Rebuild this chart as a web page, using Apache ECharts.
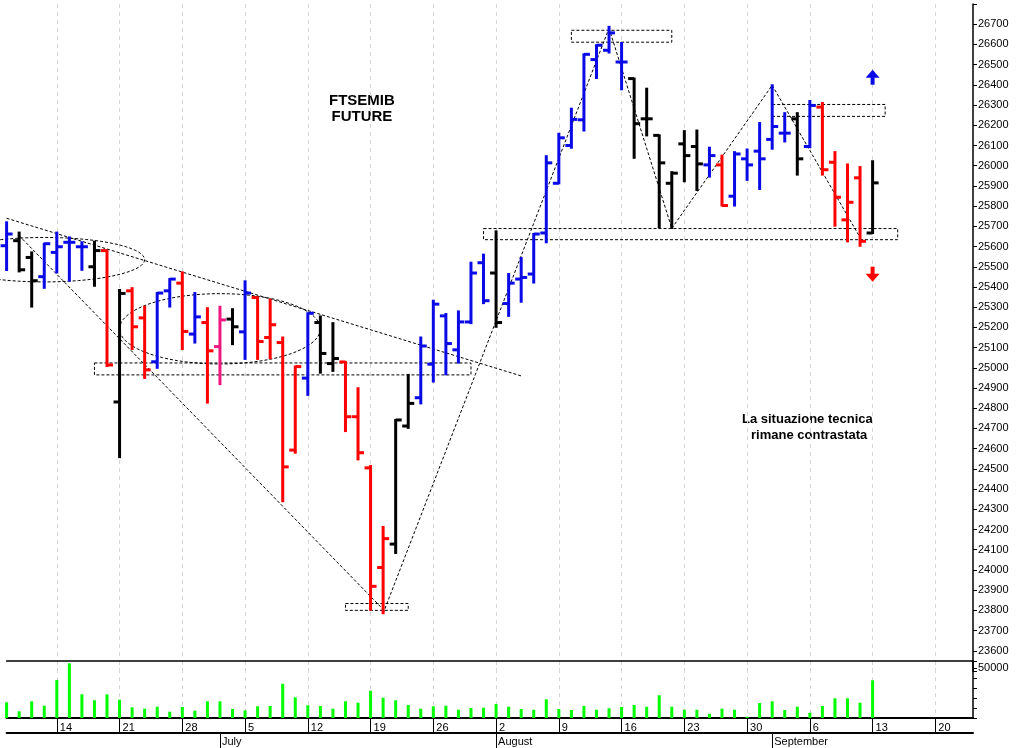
<!DOCTYPE html>
<html>
<head>
<meta charset="utf-8">
<script src="https://cdn.jsdelivr.net/npm/echarts@6/dist/echarts.min.js"></script>
<style>
  html, body { margin: 0; padding: 0; background: #fff; }
  #chart { width: 1030px; height: 748px; }
</style>
</head>
<body>
<div id="chart"></div>
<script>
// daily bars, FTSEMIB future, 8 Jun - 13 Sep 2021
const opens  = [25604,25629,25546,25451,25571,25621,25599,25500,25580,24831,25381,25247,25030,25381,25419,25167,25224,25105,25241,25178,
                25348,25150,25125,24593,24949,25224,25021,25029,24758,24505,24012,24128,24712,24852,25018,25257,25089,25227,25520,25469,
                25318,25439,25464,25667,25913,26100,26227,26525,26571,26513,26431,26232,26150,25913,26108,26095,26004,26004,25849,26034,
                26072,26130,26161,26232,26095,26290,26017,25732,25940,25667];
const highs  = [25720,25669,25571,25614,25669,25645,25621,25624,25580,25385,25394,25302,25370,25439,25472,25370,25295,25302,25290,25428,
                25348,25337,25150,25006,25270,25254,25221,25029,24899,24514,24213,24742,24965,25150,25332,25266,25279,25520,25560,25675,
                25464,25543,25662,26047,26158,26282,26551,26596,26687,26607,26431,26381,26150,25968,26171,26174,26089,26050,26067,26080,
                26211,26398,26260,26260,26320,26310,26067,26006,25993,26022];
const lows   = [25484,25477,25303,25396,25472,25431,25485,25406,25009,24558,25093,24950,25000,25303,25093,25125,24828,24919,25117,25044,
                25044,25048,24340,24580,24866,24976,24985,24687,24547,23803,23786,24084,24703,24824,24932,24968,25026,25221,25320,25203,
                25257,25327,25422,25621,25913,26089,26174,26434,26560,26378,26039,26150,25695,25692,25923,25880,25946,25803,25803,25930,
                25885,26084,26120,25956,26092,25956,25703,25626,25604,25667];
const closes = [25662,25485,25431,25614,25599,25621,25599,25580,25014,25368,25203,24990,25370,25439,25180,25252,25084,25237,25203,25370,
                25130,25213,24510,25006,25270,25071,25046,24758,24580,23919,24155,24742,24824,25108,25315,25120,25227,25469,25332,25224,
                25419,25447,25662,26014,26138,26229,26551,26596,26657,26513,26208,26232,26014,25963,26050,26009,26050,25803,26058,26004,
                26034,26194,26161,26034,26298,25980,25844,25819,25626,25915];
const barColors = 'bkkbbbbkrkrrbbrbrpkbrrrrbkkrrrrkkbbbbbbkbbbbbbbbbbkkkkkkbrbbbbbkbrrrrk'.split('');
const volumes = [15700,6700,16700,12300,38000,54700,23700,17700,23700,18300,10700,9300,11300,6300,11000,7300,16700,16700,9000,7700,
                 11700,12000,34300,20700,12700,12000,9300,16700,15300,27300,20300,17700,13000,9300,11700,12300,8300,10000,10300,14000,
                 11300,9000,8300,18700,9000,8000,12000,8300,9700,11000,13000,11300,22700,11300,8300,8300,4300,9300,8300,1300,
                 15000,16700,8000,11300,5300,12000,19700,19700,15300,37700];
const monthNames = ['January','February','March','April','May','June','July','August','September','October','November','December'];

// annotations in [dayIndex, price]
const trendLines = [
  [[0.0, 25740], [40.9, 24960]],
  [[1.07, 25654], [29.8, 23805]],
  [[30.2, 23785], [48.2, 26680]],
  [[48.2, 26680], [53.0, 25690]],
  [[53.0, 25690], [61.1, 26398]],
  [[61.1, 26398], [68.2, 25645]]
];
const boxes = [
  [7.04, 25024, 37.1, 24965],
  [27.1, 23834, 32.1, 23800],
  [45.1, 26670, 53.2, 26611],
  [38.2, 25689, 71.1, 25634],
  [61.2, 26303, 70.2, 26244]
];
const ellipses = [
  [2.66, 25535, 8.2, 110],
  [17.2, 25193, 8.1, 174]
];

const colorMap = { b: '#0a0ae6', k: '#000000', r: '#ff0000', p: '#f0187f' };

const days = [];
const dt = new Date(2021, 5, 8);
while (days.length < 78) {
  if (dt.getDay() !== 0 && dt.getDay() !== 6) days.push(new Date(dt));
  dt.setDate(dt.getDate() + 1);
}
const categories = days.map(d => d.getFullYear() + '-' + (d.getMonth() + 1) + '-' + d.getDate());
const isMonday = i => days[i].getDay() === 1;
const isMonthStart = i => i > 0 && days[i].getMonth() !== days[i - 1].getMonth();

const ohlc = opens.map((o, i) => [i, o, highs[i], lows[i], closes[i]]);

const chart = echarts.init(document.getElementById('chart'));

function renderBar(params, api) {
  const i = api.value(0);
  const x = api.coord([i, 0])[0];
  const yo = api.coord([i, api.value(1)])[1];
  const yh = api.coord([i, api.value(2)])[1];
  const yl = api.coord([i, api.value(3)])[1];
  const yc = api.coord([i, api.value(4)])[1];
  const st = { stroke: colorMap[barColors[i]], lineWidth: 3 };
  return {
    type: 'group',
    children: [
      { type: 'line', shape: { x1: x, y1: yh - 1, x2: x, y2: yl + 1 }, style: st },
      { type: 'line', shape: { x1: x - 6, y1: yo, x2: x, y2: yo }, style: st },
      { type: 'line', shape: { x1: x, y1: yc, x2: x + 6, y2: yc }, style: st }
    ]
  };
}

function renderNotes(params, api) {
  const dash = { stroke: '#000', lineWidth: 1, lineDash: [3, 2], fill: null };
  const kids = [];
  trendLines.forEach(l => {
    const a = api.coord(l[0]), b = api.coord(l[1]);
    kids.push({ type: 'line', shape: { x1: a[0], y1: a[1], x2: b[0], y2: b[1] }, style: dash });
  });
  boxes.forEach(r => {
    const a = api.coord([r[0], r[1]]), b = api.coord([r[2], r[3]]);
    kids.push({ type: 'rect', shape: { x: a[0], y: a[1], width: b[0] - a[0], height: b[1] - a[1] }, style: dash });
  });
  ellipses.forEach(e => {
    const c = api.coord([e[0], e[1]]);
    const rx = api.coord([e[0] + e[2], e[1]])[0] - c[0];
    const ry = c[1] - api.coord([e[0], e[1] + e[3]])[1];
    const pts = [];
    for (let k = 0; k <= 72; k++) {
      const t = k / 72 * Math.PI * 2;
      pts.push([c[0] + rx * Math.cos(t), c[1] + ry * Math.sin(t)]);
    }
    kids.push({ type: 'polyline', shape: { points: pts }, style: dash });
  });
  // arrows
  const up = api.coord([69.3, 26475]), dn = api.coord([69.3, 25426]);
  kids.push({ type: 'polygon', shape: { points: [[up[0], up[1]], [up[0] - 7, up[1] + 8], [up[0] + 7, up[1] + 8]] }, style: { fill: '#0a0ae6' } });
  kids.push({ type: 'rect', shape: { x: up[0] - 2, y: up[1] + 7, width: 4, height: 8 }, style: { fill: '#0a0ae6' } });
  kids.push({ type: 'polygon', shape: { points: [[dn[0], dn[1]], [dn[0] - 7, dn[1] - 8], [dn[0] + 7, dn[1] - 8]] }, style: { fill: '#ff0000' } });
  kids.push({ type: 'rect', shape: { x: dn[0] - 2, y: dn[1] - 15, width: 4, height: 8 }, style: { fill: '#ff0000' } });
  return { type: 'group', children: kids };
}

const labelFont = { fontFamily: 'Liberation Sans', fontSize: 11, color: '#000' };
const mondaySplit = { show: true, interval: i => isMonday(i), lineStyle: { color: '#d4d4d4', type: [4, 4] } };

const option = {
  animation: false,
  backgroundColor: '#fff',
  textStyle: { fontFamily: 'Liberation Sans' },
  graphic: [
    { type: 'text', left: 329, top: 93, style: { text: 'FTSEMIB\nFUTURE', textAlign: 'center', fontSize: 15, fontWeight: 'bold', lineHeight: 16, fontFamily: 'Liberation Sans', fill: '#000' } },
    { type: 'text', left: 742, top: 411, style: { text: 'La situazione tecnica\n rimane contrastata', textAlign: 'center', fontSize: 13, fontWeight: 'bold', lineHeight: 16, fontFamily: 'Liberation Sans', fill: '#000' } }
  ],
  grid: [
    { left: 6.6, right: 57, top: 4, height: 667 },
    { left: 6.6, right: 57, top: 661, height: 57 }
  ],
  xAxis: [
    { type: 'category', gridIndex: 0, data: categories, boundaryGap: false, axisLine: { show: false }, axisTick: { show: false }, axisLabel: { show: false }, splitLine: mondaySplit },
    { type: 'category', gridIndex: 1, data: categories, boundaryGap: false, position: 'bottom',
      axisLine: { lineStyle: { color: '#000', width: 2 } },
      axisTick: { interval: i => isMonday(i), length: 15, lineStyle: { color: '#000' } },
      axisLabel: Object.assign({ interval: i => isMonday(i), formatter: (v, i) => String(days[i].getDate()), align: 'left', padding: [0, 0, 0, 3], margin: 4 }, labelFont),
      splitLine: mondaySplit },
    { type: 'category', gridIndex: 1, data: categories, boundaryGap: false, position: 'bottom', offset: 15,
      axisLine: { lineStyle: { color: '#000', width: 2 } },
      axisTick: { interval: i => isMonthStart(i), length: 15, lineStyle: { color: '#000' } },
      axisLabel: Object.assign({ interval: i => isMonthStart(i), formatter: (v, i) => monthNames[days[i].getMonth()], align: 'left', padding: [0, 0, 0, 2], margin: 3 }, labelFont) },
    { type: 'category', gridIndex: 1, data: categories, boundaryGap: false, position: 'top',
      axisLine: { lineStyle: { color: '#000', width: 1.5 } }, axisTick: { show: false }, axisLabel: { show: false } }
  ],
  yAxis: [
    { type: 'value', gridIndex: 0, position: 'right', min: 23500, max: 26800, interval: 100,
      axisLine: { show: true, lineStyle: { color: '#000', width: 1.5 } },
      axisTick: { show: true, length: 4, lineStyle: { color: '#000' } },
      axisLabel: Object.assign({ margin: 5, formatter: v => (v >= 23600 && v <= 26700) ? String(v) : '' }, labelFont),
      splitLine: { show: false } },
    { type: 'value', gridIndex: 1, position: 'right', min: 0, max: 57000, interval: 10000,
      axisLine: { show: true, lineStyle: { color: '#000', width: 1.5 } },
      axisTick: { show: true, length: 4, lineStyle: { color: '#000' } },
      axisLabel: Object.assign({ margin: 5, formatter: v => v === 50000 ? '50000' : '' }, labelFont),
      splitLine: { show: false } }
  ],
  series: [
    { type: 'custom', name: 'notes', xAxisIndex: 0, yAxisIndex: 0, data: [[0, 25000]], renderItem: renderNotes, clip: false, silent: true, z: 1 },
    { type: 'custom', name: 'FTSEMIB', xAxisIndex: 0, yAxisIndex: 0, data: ohlc, renderItem: renderBar, encode: { x: 0, y: [1, 2, 3, 4] }, clip: false, z: 2 },
    { type: 'bar', name: 'Volume', xAxisIndex: 1, yAxisIndex: 1, data: volumes, barWidth: 3, itemStyle: { color: '#00ff00' } }
  ]
};
chart.setOption(option);
</script>
</body>
</html>
